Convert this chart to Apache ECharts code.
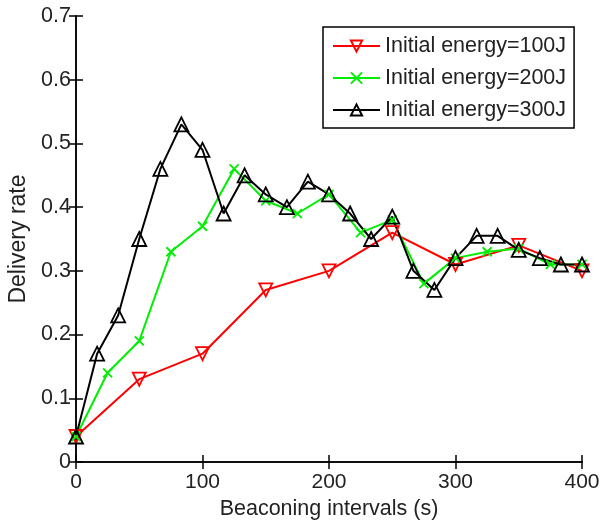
<!DOCTYPE html>
<html>
<head>
<meta charset="utf-8">
<script src="https://cdn.jsdelivr.net/npm/echarts@6/dist/echarts.min.js"></script>
<style>
  html, body { margin: 0; padding: 0; background: #fff; }
  #chart { width: 601px; height: 520px; }
</style>
</head>
<body>
<div id="chart"></div>
<script>
// values
const seriesNames = ['Initial energy=100J', 'Initial energy=200J', 'Initial energy=300J'];

const x100 = [0, 50, 100, 150, 200, 250, 300, 350, 400];
const y100 = [0.04, 0.13, 0.17, 0.27, 0.30, 0.36, 0.31, 0.34, 0.30];

const x200 = [0, 25, 50, 75, 100, 125, 150, 175, 200, 225, 250, 275, 300, 325, 350, 375, 400];
const y200 = [0.04, 0.14, 0.19, 0.33, 0.37, 0.46, 0.41, 0.39, 0.42, 0.36, 0.38, 0.28, 0.32, 0.33, 0.335, 0.31, 0.31];

const x300 = [0, 16.7, 33.3, 50, 66.7, 83.3, 100, 116.7, 133.3, 150, 166.7, 183.3, 200,
              216.7, 233.3, 250, 266.7, 283.3, 300, 316.7, 333.3, 350, 366.7, 383.3, 400];
const y300 = [0.04, 0.17, 0.23, 0.35, 0.46, 0.53, 0.49, 0.39, 0.45, 0.42, 0.40, 0.44, 0.42,
              0.39, 0.35, 0.385, 0.30, 0.27, 0.32, 0.355, 0.355, 0.333, 0.32, 0.31, 0.31];

const xTicks = { min: 0, max: 400, interval: 100 };
const yTicks = { min: 0, max: 0.7, interval: 0.1 };

const font = 'Liberation Sans, Arial, sans-serif';
const crossPath = 'path://M0,0L10,10M10,0L0,10';

function pairs(xs, ys) {
    return xs.map((x, i) => [x, ys[i]]);
}

function makeSeries(name, data, color, symbol, size, rotate) {
    return {
        name: name,
        type: 'line',
        data: data,
        symbol: symbol,
        symbolSize: size,
        symbolRotate: rotate,
        showAllSymbol: true,
        lineStyle: { color: color, width: 2 },
        itemStyle: { color: 'rgba(255,255,255,0)', borderColor: color, borderWidth: 1.8 },
        emphasis: { disabled: true },
        animation: false
    };
}

const boxAxis = {
    axisLine: { show: true, lineStyle: { color: '#000', width: 1.5 } },
    axisTick: { show: true, inside: true, length: 7, lineStyle: { color: '#000', width: 1.5 } },
    splitLine: { show: false }
};

let myChart = echarts.init(document.getElementById('chart'), null, { renderer: 'canvas' });
let option = {
    backgroundColor: '#fff',
    animation: false,
    grid: { left: 76, right: 19, top: 16, bottom: 58, containLabel: false, outerBoundsMode: 'none' },
    legend: {
        orient: 'vertical',
        left: 323,
        top: 27,
        width: 252,
        padding: [8, 8, 7, 9],
        itemWidth: 47,
        itemHeight: 14,
        itemGap: 10,
        borderColor: '#000',
        borderWidth: 1.5,
        backgroundColor: '#fff',
        data: seriesNames,
        textStyle: { fontFamily: font, fontSize: 21.5, color: '#222' }
    },
    xAxis: [
        Object.assign({
            type: 'value',
            min: xTicks.min, max: xTicks.max, interval: xTicks.interval,
            name: 'Beaconing intervals (s)',
            nameLocation: 'middle',
            nameGap: 32,
            nameTextStyle: { fontFamily: font, fontSize: 21.5, color: '#222' },
            axisLabel: { fontFamily: font, fontSize: 21, color: '#222', margin: 10 }
        }, boxAxis),
        Object.assign({
            type: 'value', position: 'top',
            min: xTicks.min, max: xTicks.max, interval: xTicks.interval,
            axisLabel: { show: false }
        }, boxAxis)
    ],
    yAxis: [
        Object.assign({
            type: 'value',
            min: yTicks.min, max: yTicks.max, interval: yTicks.interval,
            name: 'Delivery rate',
            nameLocation: 'middle',
            nameGap: 44,
            nameTextStyle: { fontFamily: font, fontSize: 23, color: '#222' },
            axisLabel: { fontFamily: font, fontSize: 21.5, color: '#222', margin: 5 }
        }, boxAxis),
        Object.assign({
            type: 'value', position: 'right',
            min: yTicks.min, max: yTicks.max, interval: yTicks.interval,
            axisLabel: { show: false }
        }, boxAxis)
    ],
    series: [
        makeSeries(seriesNames[0], pairs(x100, y100), '#ff0000', 'triangle', 13, 180),
        makeSeries(seriesNames[1], pairs(x200, y200), '#00ee00', crossPath, 9, 0),
        makeSeries(seriesNames[2], pairs(x300, y300), '#000000', 'triangle', 14, 0)
    ]
};
myChart.setOption(option);
</script>
</body>
</html>
